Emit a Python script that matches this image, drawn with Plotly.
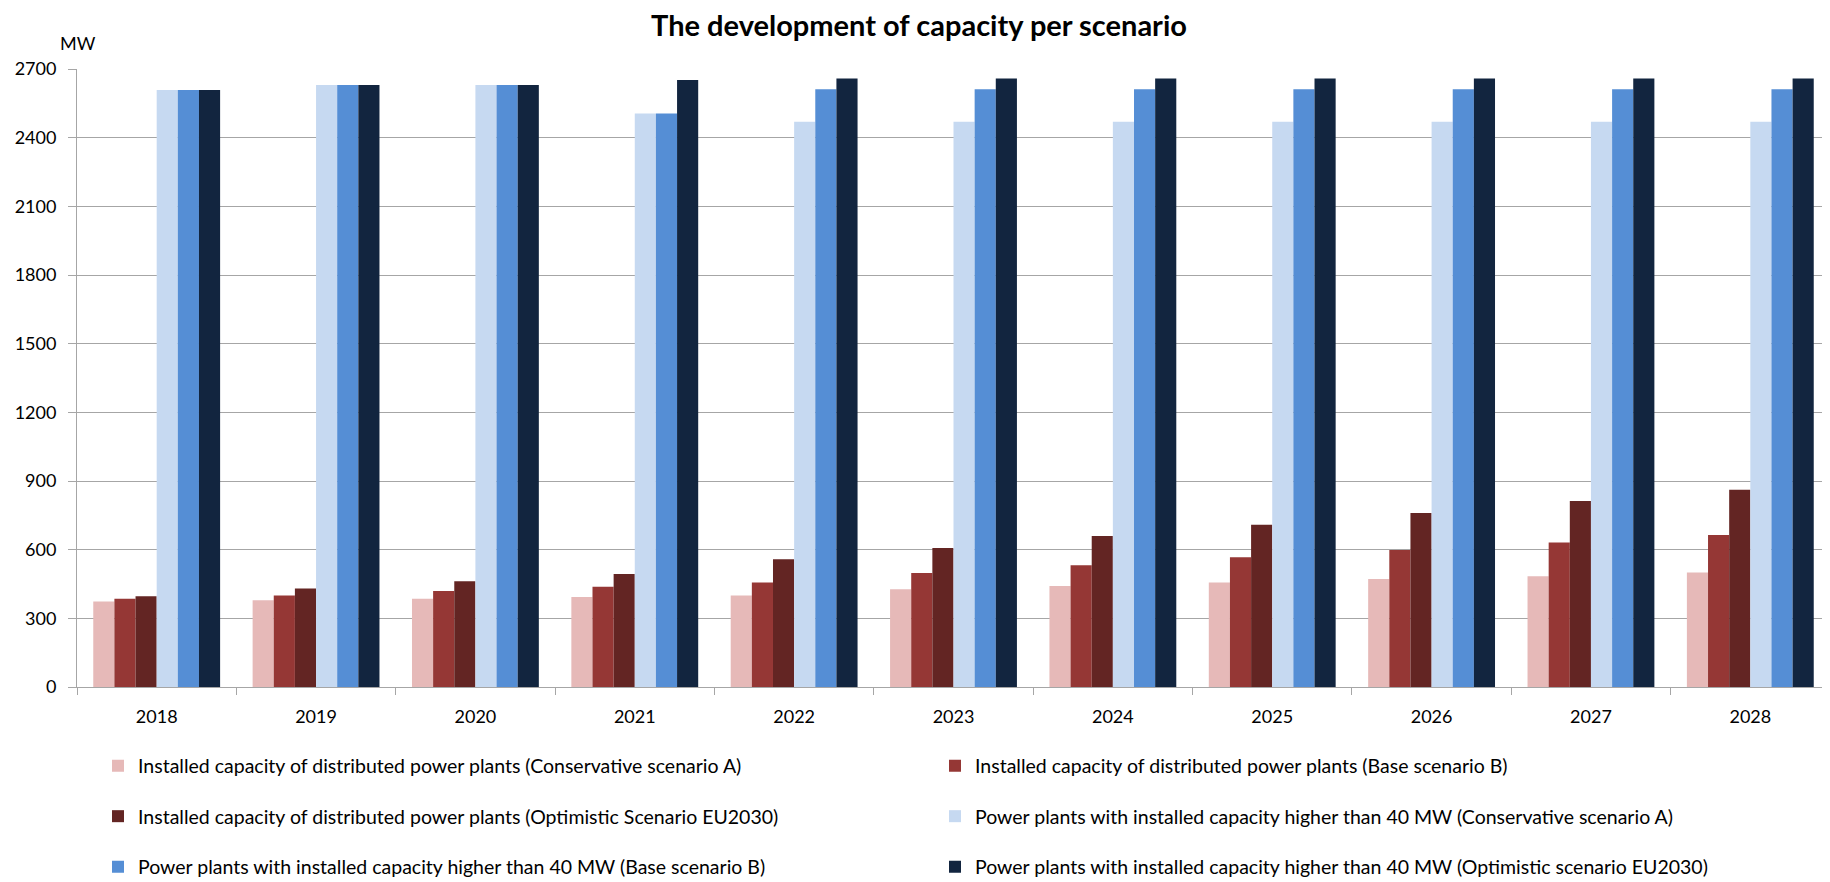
import plotly.graph_objects as go

years = ["2018", "2019", "2020", "2021", "2022", "2023", "2024", "2025", "2026", "2027", "2028"]

dist_A = [374, 379, 386, 393, 400, 427, 441, 457, 472, 484, 500]
dist_B = [386, 400, 419, 438, 457, 498, 532, 567, 599, 631, 664]
dist_EU = [396, 430, 462, 494, 558, 607, 660, 709, 760, 813, 862]
big_A = [2608, 2630, 2630, 2506, 2470, 2470, 2470, 2470, 2470, 2470, 2470]
big_B = [2608, 2630, 2630, 2506, 2611, 2611, 2611, 2611, 2611, 2611, 2611]
big_EU = [2608, 2630, 2630, 2652, 2659, 2659, 2659, 2659, 2659, 2659, 2659]

names = [
    "Installed capacity of distributed power plants (Conservative scenario A)",
    "Installed capacity of distributed power plants (Base scenario B)",
    "Installed capacity of distributed power plants (Optimistic Scenario EU2030)",
    "Power plants with installed capacity higher than 40 MW (Conservative scenario A)",
    "Power plants with installed capacity higher than 40 MW (Base scenario B)",
    "Power plants with installed capacity higher than 40 MW (Optimistic scenario EU2030)",
]
series = [dist_A, dist_B, dist_EU, big_A, big_B, big_EU]
colors = ["#E6B9B8", "#953735", "#632523", "#C6D9F1", "#558ED5", "#12253F"]
legend_ids = ["legend", "legend", "legend2", "legend2", "legend3", "legend3"]

FONT = "Lato"
W, H = 1822, 874  # page body has an 8px margin inside the 1830x882 window

fig = go.Figure()
for name, vals, col, lg in zip(names, series, colors, legend_ids):
    fig.add_trace(go.Bar(
        x=years, y=vals, name=name, legend=lg,
        marker=dict(color=col, line=dict(width=0)),
    ))

legend_common = dict(
    orientation="h", xref="container", yref="container",
    x=90 / W, xanchor="left", yanchor="middle",
    entrywidth=792, entrywidthmode="pixels",
    font=dict(family=FONT, size=19.5, color="#000000"),
    bgcolor="rgba(0,0,0,0)", traceorder="normal",
)

fig.update_layout(
    width=W, height=H,
    paper_bgcolor="white", plot_bgcolor="white",
    margin=dict(l=69, r=0, t=61, b=195),
    barmode="group", bargap=0.204, bargroupgap=0,
    font=dict(family=FONT, size=18, color="#000000"),
    title=dict(
        text="<b>The development of capacity per scenario</b>",
        x=0.5, xref="container", xanchor="center",
        y=1 - 18 / H, yref="container", yanchor="middle",
        font=dict(family=FONT, size=29, color="#000000"),
    ),
    legend=dict(legend_common, y=1 - 758 / H),
    legend2=dict(legend_common, y=1 - 808.5 / H),
    legend3=dict(legend_common, y=1 - 859 / H),
    xaxis=dict(
        type="category", showgrid=False,
        showline=True, linecolor="#A6A6A6", linewidth=1,
        ticks="outside", tickson="boundaries", ticklen=7, tickcolor="#A6A6A6",
        ticklabelstandoff=13,
        tickfont=dict(family=FONT, size=18, color="#000000"),
    ),
    yaxis=dict(
        range=[0, 2700], tickmode="array",
        tickvals=[0, 300, 600, 900, 1200, 1500, 1800, 2100, 2400, 2700],
        showgrid=True, gridcolor="#A6A6A6", gridwidth=1,
        showline=True, linecolor="#A6A6A6", linewidth=1,
        ticks="outside", ticklen=8, tickcolor="#A6A6A6",
        ticklabelstandoff=8, zeroline=False,
        tickfont=dict(family=FONT, size=18, color="#000000"),
    ),
    annotations=[dict(
        text="MW", xref="paper", yref="paper", x=0, y=1,
        xanchor="center", yanchor="middle", xshift=1, yshift=26,
        showarrow=False, font=dict(family=FONT, size=18, color="#000000"),
    )],
)

fig.write_html("out.html")
